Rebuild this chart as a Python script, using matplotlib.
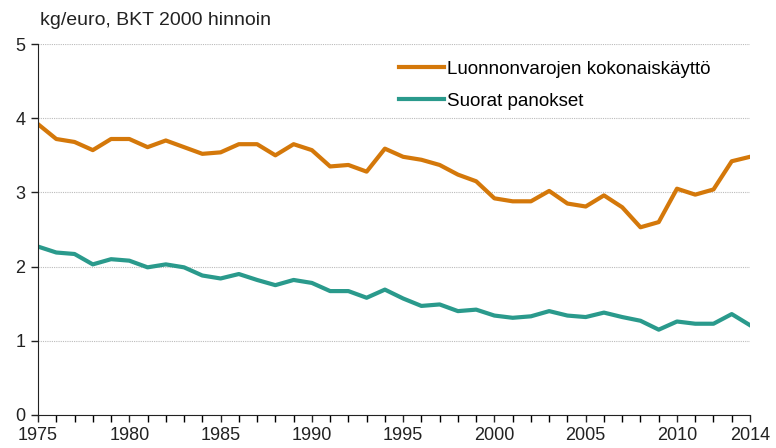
import numpy as np
import matplotlib
matplotlib.use("Agg")
import matplotlib.pyplot as plt
from matplotlib.ticker import MultipleLocator

#--------data begin--------
years = list(range(1975, 2015))
kokonaiskaytto = [3.92, 3.72, 3.68, 3.57, 3.72, 3.72, 3.61, 3.70, 3.61, 3.52,
                  3.54, 3.65, 3.65, 3.50, 3.65, 3.57, 3.35, 3.37, 3.28, 3.59,
                  3.48, 3.44, 3.37, 3.24, 3.15, 2.92, 2.88, 2.88, 3.02, 2.85,
                  2.81, 2.96, 2.80, 2.53, 2.60, 3.05, 2.97, 3.04, 3.42, 3.48]
suorat = [2.27, 2.19, 2.17, 2.03, 2.10, 2.08, 1.99, 2.03, 1.99, 1.88,
          1.84, 1.90, 1.82, 1.75, 1.82, 1.78, 1.67, 1.67, 1.58, 1.69,
          1.57, 1.47, 1.49, 1.40, 1.42, 1.34, 1.31, 1.33, 1.40, 1.34,
          1.32, 1.38, 1.32, 1.27, 1.15, 1.26, 1.23, 1.23, 1.36, 1.21]
labels = ["Luonnonvarojen kokonaiskäyttö", "Suorat panokset"]
xticks = [1975, 1980, 1985, 1990, 1995, 2000, 2005, 2010, 2014]
#--------data end--------

colors = ("#D4780A", "#2A9A8C")

plt.rcParams["font.family"] = ["Liberation Sans", "DejaVu Sans"]

fig = plt.figure(figsize=(7.76, 4.48), dpi=100)
ax = fig.add_axes([0.049, 0.0737, 0.9175, 0.828])

for series, label, color in zip((kokonaiskaytto, suorat), labels, colors):
  ax.plot(years, series, color=color, lw=3, label=label, solid_joinstyle="round")

ax.set_xlim(1975, 2014)
ax.set_ylim(0, 5)
ax.set_yticks([0, 1, 2, 3, 4, 5])
ax.set_xticks(xticks)
ax.xaxis.set_minor_locator(MultipleLocator(1))
ax.tick_params(axis="both", labelsize=13, colors="#222222", direction="out", length=5, width=1)
ax.tick_params(axis="x", which="minor", length=5, width=1)
ax.tick_params(axis="y", pad=4)
ax.tick_params(axis="x", pad=4)

for side in ("top", "right"):
  ax.spines[side].set_visible(False)
ax.spines["left"].set_color("#222222")
ax.spines["bottom"].set_color("#222222")

ax.grid(axis="y", color="#bbbbbb", ls=(0, (1, 1)), lw=0.8)
ax.set_axisbelow(True)

fig.text(0.051, 0.955, "kg/euro, BKT 2000 hinnoin", fontsize=14, color="#222222", va="center")

ax.legend(loc="upper left", bbox_to_anchor=(0.497, 0.975), frameon=False, fontsize=13.5,
          handlelength=2.4, handletextpad=0.16, labelspacing=0.78, borderaxespad=0)

fig.savefig("out.png", dpi=100)
